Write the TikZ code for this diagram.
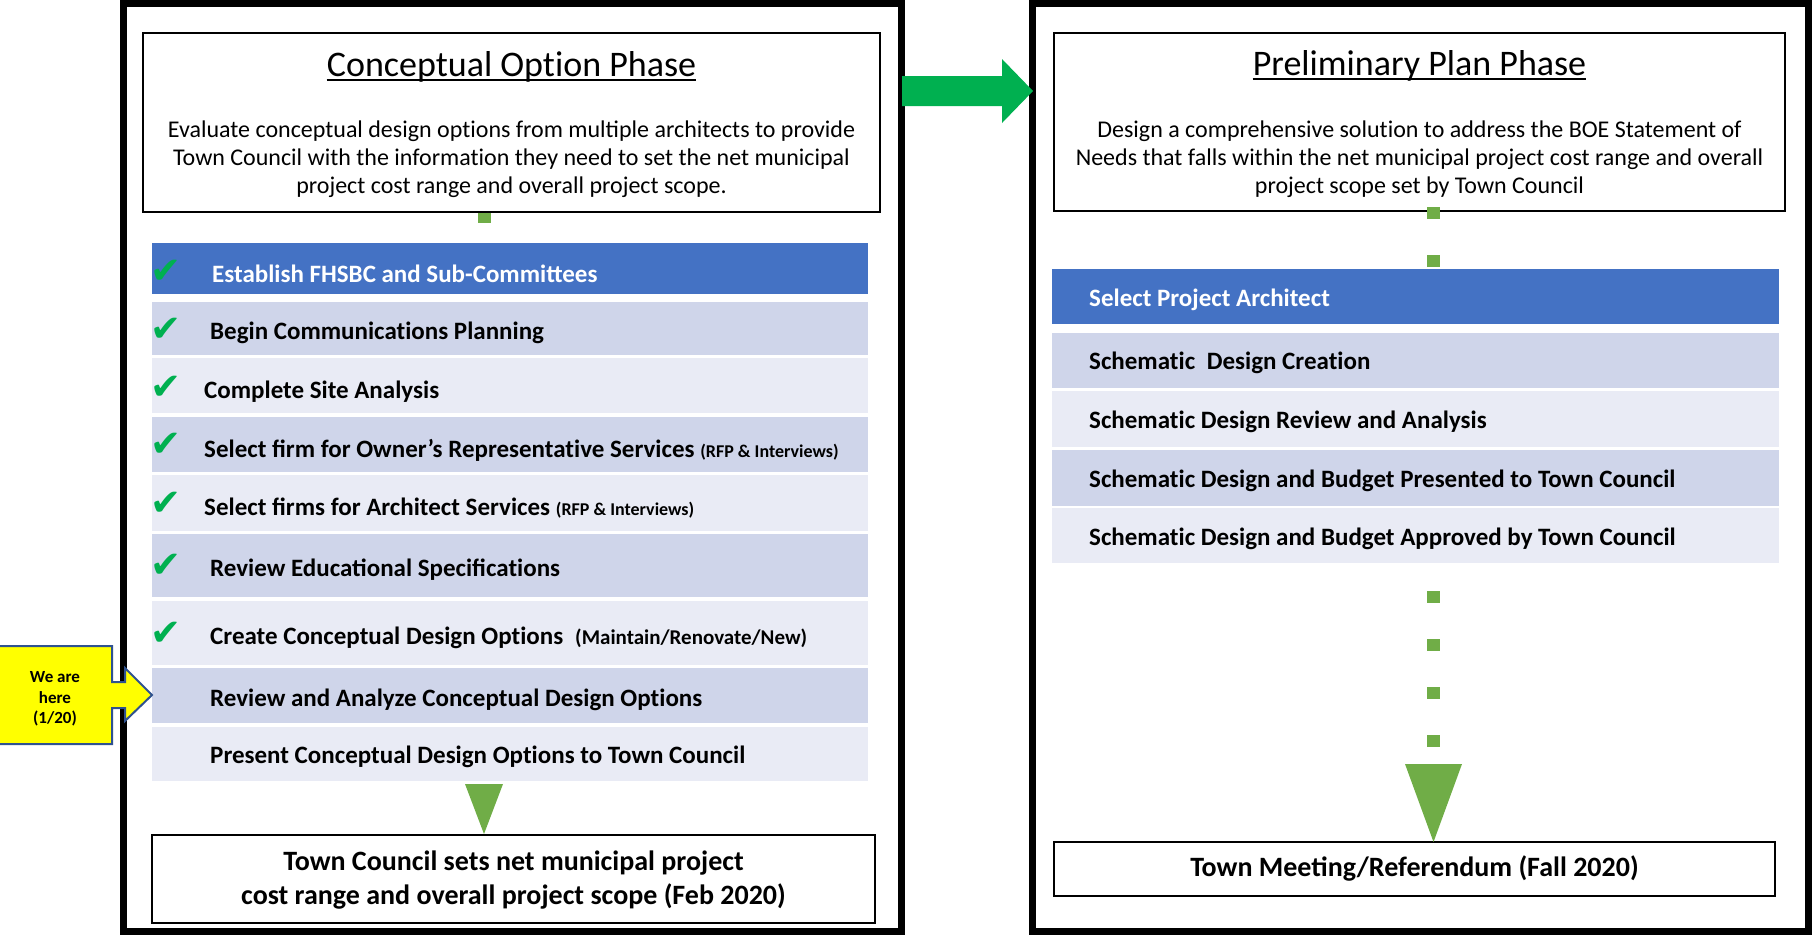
\documentclass[tikz,border=0pt]{standalone}
\usepackage{fontspec}
\setmainfont{Carlito}
\newfontfamily\symfont{DejaVu Sans}
\usetikzlibrary{calc}
\definecolor{barblue}{HTML}{4472C4}
\definecolor{rowdark}{HTML}{CFD5EA}
\definecolor{rowlight}{HTML}{E9EBF5}
\definecolor{arrowgreen}{HTML}{00B050}
\definecolor{dashgreen}{HTML}{70AD47}
\definecolor{calloutyellow}{HTML}{FFFF00}
\definecolor{calloutblue}{HTML}{2F528F}
\tikzset{
  phaseframe/.style={draw=black, line width=7pt},
  titlebox/.style={draw=black, line width=2pt, fill=white},
  endbox/.style={draw=black, line width=2.4pt, fill=white, inner sep=0pt, outer sep=0pt, anchor=north west},
  rowbox/.style={inner sep=0pt, outer sep=0pt, anchor=north west},
  lrow/.style={rowbox, minimum width=716pt, minimum height=#1},
  rrow/.style={rowbox, minimum width=727pt, minimum height=#1},
  rowtxt/.style={anchor=base west, inner sep=0pt, font=\fontsize{25}{30}\selectfont\bfseries},
  desctxt/.style={anchor=base, inner sep=0pt, font=\fontsize{24}{29}\selectfont},
  ttltxt/.style={anchor=base, inner sep=0pt, font=\fontsize{36}{43}\selectfont},
  endtxt/.style={anchor=base, inner sep=0pt, font=\fontsize{28}{34}\selectfont\bfseries},
  chk/.style={inner sep=0pt, text=arrowgreen, font=\symfont\fontsize{37}{40}\selectfont},
  dashconn/.style={draw=dashgreen, line width=13pt, dash pattern=on 12pt off 36pt},
  uline/.style={line width=2.5pt},
}
\newcommand{\smalltxt}[1]{{\fontsize{18}{22}\selectfont #1}}
\newcommand{\tbr}{\kern0pt}
\begin{document}
\begin{tikzpicture}[x=1pt,y=-1pt]
\useasboundingbox (0,0) rectangle (1814,935);
% phase frames
\draw[phaseframe] (123.5,3.5) rectangle (901.5,931.5);
\draw[phaseframe] (1032,3.5) rectangle (1808.5,931.5);

% ---------- left phase ----------
\draw[titlebox] (143,33) rectangle (880,212);
\node[ttltxt] (lttl) at (511.5,76) {Conceptual Opt\tbr ion Phase};
\draw[uline] ($(lttl.base west)+(0,4)$) -- ($(lttl.base east)+(0,4)$);
\node[desctxt] (ld1) at (511.5,137) {Evaluate conceptual design opt\tbr ions from multiple architects to provide};
\node[desctxt] (ld2) at (511.5,165) {Town Council with the informat\tbr ion they need to set the net municipal};
\node[desctxt] (ld3) at (511.5,193) {project cost range and overall project scope.};

\coordinate (lc1) at (484,213);
\node[lrow=51pt, fill=barblue] (l1) at (152,243) {};
\draw[dashconn, dash pattern=on 10pt off 36pt] (lc1) -- (lc1 |- l1.north);
\node[lrow=53pt, fill=rowdark] (l2) at (152,302) {};
\node[lrow=55pt, fill=rowlight] (l3) at (152,358) {};
\node[lrow=55pt, fill=rowdark] (l4) at (152,417) {};
\node[lrow=56pt, fill=rowlight] (l5) at (152,475) {};
\node[lrow=63pt, fill=rowdark] (l6) at (152,534) {};
\node[lrow=64pt, fill=rowlight] (l7) at (152,601) {};
\node[lrow=55pt, fill=rowdark] (l8) at (152,668) {};
\node[lrow=54pt, fill=rowlight] (l9) at (152,727) {};

\node[rowtxt, text=white] (l1t) at (212,282) {Establish FHSBC and Sub-Committees};
\node[rowtxt] (l2t) at (210,339) {Begin Communicat\tbr ions Planning};
\node[rowtxt] (l3t) at (204,398) {Complete Site Analysis};
\node[rowtxt] (l4t) at (204,457) {Select firm for Owner’s Representat\tbr ive Services \smalltxt{(RFP \& Interviews)}};
\node[rowtxt] (l5t) at (204,515) {Select firms for Architect Services \smalltxt{(RFP \& Interviews)}};
\node[rowtxt] (l6t) at (210,576) {Review Educational Specificat\tbr ions};
\node[rowtxt] (l7t) at (210,644) {Create Conceptual Design Opt\tbr ions\hspace*{12pt}{\fontsize{21}{25}\selectfont(Maintain/Renovate/New)}};
\node[rowtxt] (l8t) at (210,706) {Review and Analyze Conceptual Design Opt\tbr ions};
\node[rowtxt] (l9t) at (210,763) {Present Conceptual Design Opt\tbr ions to Town Council};

\node[chk] (c1) at (166,272) {✔};
\node[chk] (c2) at (166,330) {✔};
\node[chk] (c3) at (166,388) {✔};
\node[chk] (c4) at (166,445) {✔};
\node[chk] (c5) at (166,504) {✔};
\node[chk] (c6) at (166,566) {✔};
\node[chk] (c7) at (166,634) {✔};

\node[endbox, minimum width=723pt, minimum height=88pt] (lend) at (152,835) {};
\coordinate (ltip) at (484,834);
\fill[dashgreen] ($(ltip |- l9.south)+(-19,3)$) -- ($(ltip |- l9.south)+(19,3)$) -- (ltip) -- cycle;
\node[endtxt] (le1) at (513.5,870) {Town Council sets net municipal project};
\node[endtxt] (le2) at (513.5,904) {cost range and overall project scope (Feb 2020)};

% ---------- right phase ----------
\draw[titlebox] (1054,33) rectangle (1785,211);
\node[ttltxt] (rttl) at (1419.5,75) {Preliminary Plan Phase};
\draw[uline] ($(rttl.base west)+(0,4)$) -- ($(rttl.base east)+(0,4)$);
\node[desctxt] (rd1) at (1419.5,137) {Design a comprehensive solut\tbr ion to address the BOE Statement of};
\node[desctxt] (rd2) at (1419.5,165) {Needs that falls within the net municipal project cost range and overall};
\node[desctxt] (rd3) at (1419.5,193) {project scope set by Town Council};

\coordinate (rc1) at (1433.5,207);
\node[rrow=55pt, fill=barblue] (r1) at (1052,269) {};
\draw[dashconn] (rc1) -- (rc1 |- r1.north);
\node[rrow=55pt, fill=rowdark] (r2) at (1052,333) {};
\node[rrow=56pt, fill=rowlight] (r3) at (1052,391) {};
\node[rrow=56pt, fill=rowdark] (r4) at (1052,450) {};
\node[rrow=55pt, fill=rowlight] (r5) at (1052,508) {};

\node[rowtxt, text=white] (r1t) at (1089,306.5) {Select Project Architect};
\node[rowtxt] (r2t) at (1089,369) {Schemat\tbr ic\hspace*{6pt} Design Creat\tbr ion};
\node[rowtxt] (r3t) at (1089,428) {Schemat\tbr ic Design Review and Analysis};
\node[rowtxt] (r4t) at (1089,487) {Schemat\tbr ic Design and Budget Presented to Town Council};
\node[rowtxt] (r5t) at (1089,545) {Schemat\tbr ic Design and Budget Approved by Town Council};

\node[endbox, minimum width=721pt, minimum height=54pt] (rend) at (1054,842) {};
\coordinate (rtop) at (1433.5,764);
\draw[dashconn, dash phase=20pt] (rc1 |- r5.south) -- (rtop);
\fill[dashgreen] ($(rtop)+(-28.5,0)$) -- ($(rtop)+(28.5,0)$) -- (rtop |- rend.north) -- cycle;
\node[endtxt] (re1) at (1414.5,876) {Town Meeting/Referendum (Fall 2020)};

% ---------- arrow between phases ----------
\coordinate (gtail) at (902,91);
\coordinate (gtip) at (1033,91);
\fill[arrowgreen] ($(gtail)+(0,-15)$) -- ($(gtail)+(100,-15)$) -- ($(gtail)+(100,-32)$) -- (gtip) -- ($(gtail)+(100,32)$) -- ($(gtail)+(100,15)$) -- ($(gtail)+(0,15)$) -- cycle;

% ---------- callout ----------
\draw[fill=calloutyellow, draw=calloutblue, line width=2pt]
  (-3,646) -- (112,646) -- (112,682) -- (125,682) -- (125,668) -- (152,695)
  -- (125,721) -- (125,708) -- (112,708) -- (112,744) -- (-3,744) -- cycle;
\node[align=center, inner sep=0pt, font=\fontsize{17}{20.5}\selectfont\bfseries] (here) at (55,699) {We are\\here\\(1/20)};
\end{tikzpicture}
\end{document}
